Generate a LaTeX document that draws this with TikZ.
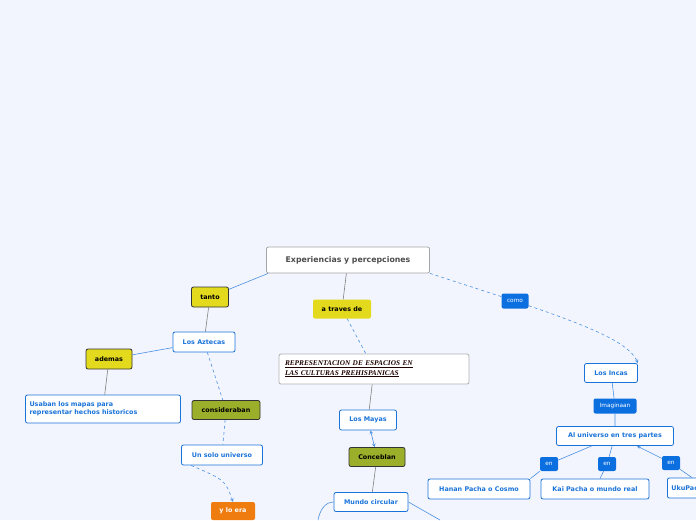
\documentclass[tikz,border=0pt]{standalone}
\usepackage{fontspec}
\setmainfont{DejaVu Sans}
\newfontfamily\serifb{Liberation Serif}
\definecolor{bg}{HTML}{F2F5FE}
\definecolor{lb}{HTML}{4A90E2}
\definecolor{tb}{HTML}{1A73D9}
\definecolor{yel}{HTML}{E3DA1E}
\definecolor{oli}{HTML}{9BAF2B}
\definecolor{org}{HTML}{EF7C0E}
\definecolor{bl}{HTML}{0B6FE0}
\begin{document}
\begin{tikzpicture}[x=1pt,y=-1pt,
 base/.style={rounded corners=2pt,font=\bfseries\fontsize{6.4}{8}\selectfont,inner sep=0pt,align=center},
 wbox/.style={base,draw=tb,fill=white,text=tb,line width=0.8pt},
 ybox/.style={base,draw=black!80,fill=yel,text=black,line width=0.8pt},
 obox/.style={base,draw=black!80,fill=oli,text=black,line width=0.8pt},
 lbl/.style={base,fill=bl,text=white,font=\fontsize{5.8}{7}\selectfont},
 ln/.style={lb,line width=0.6pt},
 gl/.style={gray,line width=0.6pt},
 dl/.style={lb,line width=0.6pt,dashed},
]
\useasboundingbox (0,0) rectangle (696,520);
\clip (0,0) rectangle (696,520);
\fill[bg] (0,0) rectangle (696,520);
\node[base,draw=black!35,fill=white,text=black!70,line width=0.8pt,minimum width=163,minimum height=26,font=\bfseries\fontsize{7.8}{9}\selectfont] (exp) at (348,260) {Experiencias y percepciones};
\node[ybox,minimum width=37,minimum height=20] (tanto) at (210,297) {tanto};
\node[base,fill=yel,minimum width=58,minimum height=19] (atr) at (342,309) {a traves de};
\node[wbox,minimum width=62,minimum height=20] (azt) at (204,342) {Los Aztecas};
\node[ybox,minimum width=46,minimum height=20] (ade) at (109,359) {ademas};
\node[wbox,minimum width=155,minimum height=28,align=left,text width=147] (usa) at (103,409) {Usaban los mapas para\\representar hechos historicos};
\node[obox,minimum width=68,minimum height=19] (cons) at (226,410) {consideraban};
\node[wbox,minimum width=81,minimum height=20] (uns) at (222,455) {Un solo universo};
\node[base,fill=org,text=white,minimum width=44,minimum height=18] (ylo) at (233,511) {y lo era};
\node[base,draw=black!30,fill=white,line width=0.8pt,minimum width=190,minimum height=30,align=left,text width=178,text=black!70!red!40!black,font=\serifb\bfseries\itshape\fontsize{7.3}{9.5}\selectfont] (rep) at (374,369) {\underline{REPRESENTACION DE ESPACIOS EN}\\\underline{LAS CULTURAS PREHISPANICAS}};
\node[wbox,minimum width=57,minimum height=20] (may) at (368,420) {Los Mayas};
\node[obox,minimum width=56,minimum height=19] (conc) at (377,457) {Conceblan};
\node[wbox,minimum width=74,minimum height=19] (mun) at (371,502) {Mundo circular};
\node[lbl,minimum width=27,minimum height=15] (como) at (515,301) {como};
\node[wbox,minimum width=53,minimum height=19] (inc) at (611,373) {Los Incas};
\node[lbl,minimum width=43,minimum height=15] (ima) at (615,406) {Imaginaan};
\node[wbox,minimum width=117,minimum height=19] (alu) at (615,436) {Al universo en tres partes};
\node[lbl,minimum width=18,minimum height=14] (en1) at (549,464) {en};
\node[lbl,minimum width=18,minimum height=14] (en2) at (607,464) {en};
\node[lbl,minimum width=18,minimum height=14] (en3) at (671,463) {en};
\node[wbox,minimum width=102,minimum height=20] (han) at (479,489) {Hanan Pacha o Cosmo};
\node[wbox,minimum width=108,minimum height=20] (kai) at (595,489) {Kai Pacha o mundo real};
\node[wbox,minimum width=110,minimum height=20,anchor=west,text width=102,align=left] (uku) at (667,488) {UkuPacha};
\coordinate (m1) at (318,520);
\coordinate (m2) at (440,520);
\draw[ln] ([xshift=2pt]exp.south west) -- (tanto);
\draw[gl] (tanto) -- (azt);
\draw[ln] (azt) -- (ade);
\draw[gl] (ade) -- (usa);
\draw[dl] (azt) -- (cons);
\draw[dl] (cons) -- (uns);
\draw[dl,-stealth] ([xshift=10pt]uns.south west) .. controls (225,480) .. (ylo.north);
\draw[gl] (exp) -- (atr);
\draw[dl] (atr) -- (rep);
\draw[gl] (rep) -- (may);
\draw[ln,stealth-stealth] (may) -- (conc);
\draw[gl] (conc) -- (mun);
\draw[ln] (mun.west) .. controls (325,502) and (320,510) .. (m1);
\draw[ln] (mun.east) -- (m2);
\draw[dl] (exp.south east) -- (como);
\draw[dl,-stealth] (como) .. controls (600,330) and (630,345) .. (inc.north east);
\draw[ln] (inc) -- (ima) -- (alu);
\draw[ln] (alu) -- (en1) -- (han.north east);
\draw[ln] (alu) -- (en2) -- (kai);
\draw[ln] ([xshift=25pt]uku.north west) -- (en3);
\draw[ln,-stealth] (en3) -- ([xshift=-37pt]alu.south east);
\end{tikzpicture}
\end{document}
